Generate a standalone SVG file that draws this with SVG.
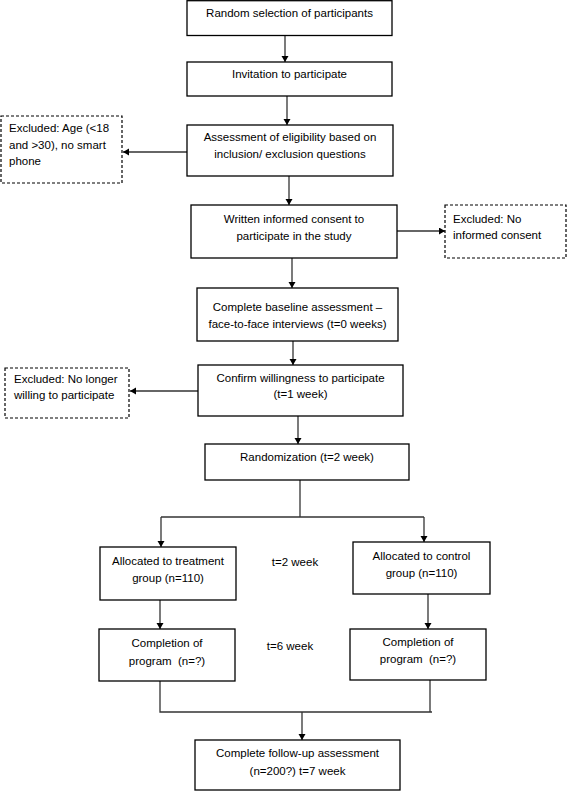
<svg xmlns="http://www.w3.org/2000/svg" width="567" height="791" viewBox="0 0 567 791">
<defs>
<marker id="ah" markerUnits="userSpaceOnUse" markerWidth="8" markerHeight="8" refX="6" refY="3.5" orient="auto">
<path d="M0,0 L6,3.5 L0,7 Z" fill="#000"/>
</marker>
<style>
.box{fill:#fff;stroke:#000;stroke-width:1.3}
.dbox{fill:#fff;stroke:#000;stroke-width:1.2;stroke-dasharray:3 2}
.c{fill:none;stroke:#333;stroke-width:1.3}
.a{marker-end:url(#ah)}
text{font-family:"Liberation Sans",Arial,sans-serif;font-size:11.5px;fill:#000}
.m{text-anchor:middle}
</style>
</defs>
<rect width="567" height="791" fill="#fff"/>
<g id="connectors">
<line class="c a" x1="285" y1="35.5" x2="285" y2="62"/>
<line class="c a" x1="287" y1="96" x2="287" y2="125"/>
<line class="c a" x1="187" y1="152" x2="123" y2="152"/>
<line class="c a" x1="289" y1="176" x2="289" y2="205"/>
<line class="c a" x1="397" y1="231" x2="445" y2="231"/>
<line class="c a" x1="292" y1="258" x2="292" y2="288"/>
<line class="c a" x1="293" y1="341" x2="293" y2="365"/>
<line class="c a" x1="198" y1="391" x2="130" y2="391"/>
<line class="c a" x1="298" y1="416" x2="298" y2="444"/>
<polyline class="c" points="300,479 300,517"/>
<polyline class="c" points="161,517 424,517"/>
<line class="c a" x1="161" y1="517" x2="161" y2="547"/>
<line class="c a" x1="424" y1="517" x2="424" y2="542"/>
<line class="c a" x1="160" y1="599" x2="160" y2="629"/>
<line class="c a" x1="428" y1="593" x2="428" y2="629"/>
<polyline class="c" points="160,681 160,712 432,712"/>
<polyline class="c" points="430,680 430,712"/>
<line class="c a" x1="302" y1="712" x2="302" y2="740"/>
</g>
<g id="n1"><rect class="box" x="187" y="0.7" width="205" height="34.8"/><text class="m" x="289.5" y="17">Random selection of participants</text></g>
<g id="n2"><rect class="box" x="187" y="62" width="205" height="34"/><text class="m" x="289.5" y="78">Invitation to participate</text></g>
<g id="n3"><rect class="box" x="187" y="125" width="206" height="51"/><text class="m" x="290" y="141">Assessment of eligibility based on</text><text class="m" x="290" y="158">inclusion/ exclusion questions</text></g>
<g id="x1"><rect class="dbox" x="1" y="116" width="121" height="67"/><text x="9" y="132">Excluded: Age (&lt;18</text><text x="9" y="149">and &gt;30), no smart</text><text x="9" y="165">phone</text></g>
<g id="n4"><rect class="box" x="191" y="205" width="206" height="53"/><text class="m" x="294" y="223">Written informed consent to</text><text class="m" x="294" y="240">participate in the study</text></g>
<g id="x2"><rect class="dbox" x="445" y="205" width="121" height="53"/><text x="453" y="223">Excluded: No</text><text x="453" y="239">informed consent</text></g>
<g id="n5"><rect class="box" x="197" y="288" width="201" height="53"/><text class="m" x="297.5" y="311">Complete baseline assessment –</text><text class="m" x="297.5" y="328">face-to-face interviews (t=0 weeks)</text></g>
<g id="n6"><rect class="box" x="198" y="365" width="205" height="51"/><text class="m" x="300.5" y="382">Confirm willingness to participate</text><text class="m" x="300.5" y="398">(t=1 week)</text></g>
<g id="x3"><rect class="dbox" x="5" y="368" width="124" height="50"/><text x="14" y="383">Excluded: No longer</text><text x="14" y="399">willing to participate</text></g>
<g id="n7"><rect class="box" x="205" y="444" width="204" height="36"/><text class="m" x="307" y="461">Randomization (t=2 week)</text></g>
<g id="n8"><rect class="box" x="100" y="547" width="136" height="53"/><text class="m" x="168" y="565">Allocated to treatment</text><text class="m" x="168" y="582">group (n=110)</text></g>
<g id="l1"><text class="m" x="295" y="566">t=2 week</text></g>
<g id="n9"><rect class="box" x="353" y="542" width="137" height="52"/><text class="m" x="421.5" y="560">Allocated to control</text><text class="m" x="421.5" y="577">group (n=110)</text></g>
<g id="n10"><rect class="box" x="99" y="629" width="136" height="52"/><text class="m" x="167" y="647">Completion of</text><text class="m" x="167" y="665">program &#160;(n=?)</text></g>
<g id="l2"><text class="m" x="290" y="650">t=6 week</text></g>
<g id="n11"><rect class="box" x="350" y="629" width="136" height="51"/><text class="m" x="418" y="646">Completion of</text><text class="m" x="418" y="663">program &#160;(n=?)</text></g>
<g id="n12"><rect class="box" x="195" y="740" width="205" height="50"/><text class="m" x="297.5" y="757">Complete follow-up assessment</text><text class="m" x="297.5" y="775">(n=200?) t=7 week</text></g>
</svg>
